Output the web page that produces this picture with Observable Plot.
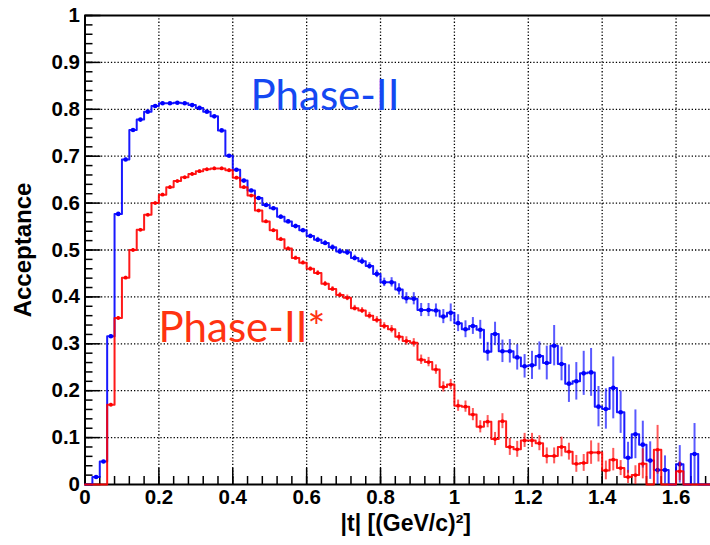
<!DOCTYPE html>
<html><head><meta charset="utf-8">
<script src="https://cdn.jsdelivr.net/npm/d3@7"></script>
<script src="https://cdn.jsdelivr.net/npm/@observablehq/plot@0.6"></script>
<style>html,body{margin:0;padding:0;background:#fff;overflow:hidden;} #chart{width:710px;height:545px;overflow:hidden;}</style>
</head><body><div id="chart"></div>
<script>
const binWidth = 0.02;
const tMax = 1.7;
// Phase-II (blue) acceptance per |t| bin of 0.02, from 0 to 1.7
const phase2 = [
0, 0.016, 0.049, 0.316, 0.577, 0.693, 0.756, 0.778, 0.795, 0.807,
0.813, 0.813, 0.814, 0.813, 0.809, 0.803, 0.795, 0.785, 0.755, 0.701,
0.671, 0.648, 0.627, 0.611, 0.596, 0.589, 0.571, 0.561, 0.551, 0.542,
0.530, 0.522, 0.515, 0.506, 0.497, 0.495, 0.483, 0.476, 0.466, 0.449,
0.431, 0.431, 0.416, 0.397, 0.396, 0.372, 0.372, 0.371, 0.358, 0.366,
0.344, 0.331, 0.338, 0.330, 0.283, 0.321, 0.284, 0.284, 0.271, 0.252,
0.254, 0.274, 0.259, 0.296, 0.257, 0.215, 0.220, 0.237, 0.239, 0.166,
0.161, 0.206, 0.154, 0.057, 0.107, 0.085, 0.051, 0.031, 0.031, 0,
0.043, 0, 0.065, 0, 0];
const phase2Err = [
0, 0.002, 0.002, 0.003, 0.003, 0.003, 0.002, 0.002, 0.002, 0.002,
0.002, 0.002, 0.002, 0.002, 0.002, 0.002, 0.002, 0.002, 0.002, 0.002,
0.003, 0.003, 0.003, 0.003, 0.003, 0.003, 0.004, 0.004, 0.004, 0.004,
0.004, 0.005, 0.005, 0.005, 0.006, 0.006, 0.006, 0.007, 0.007, 0.008,
0.009, 0.010, 0.012, 0.012, 0.013, 0.014, 0.014, 0.014, 0.015, 0.019,
0.018, 0.018, 0.018, 0.020, 0.020, 0.025, 0.024, 0.025, 0.027, 0.025,
0.030, 0.030, 0.036, 0.043, 0.036, 0.040, 0.040, 0.047, 0.051, 0.043,
0.043, 0.066, 0.045, 0.033, 0.052, 0.050, 0.040, 0.038, 0.030, 0,
0.040, 0, 0.065, 0, 0];
// Phase-II* (red)
const phase2s = [
0, 0, 0, 0.170, 0.355, 0.441, 0.500, 0.543, 0.575, 0.600,
0.618, 0.634, 0.647, 0.655, 0.662, 0.668, 0.672, 0.674, 0.674, 0.670,
0.654, 0.634, 0.616, 0.584, 0.561, 0.542, 0.523, 0.503, 0.483, 0.473,
0.460, 0.451, 0.428, 0.417, 0.404, 0.398, 0.376, 0.371, 0.360, 0.351,
0.338, 0.331, 0.315, 0.306, 0.302, 0.266, 0.261, 0.245, 0.208, 0.213,
0.168, 0.166, 0.149, 0.123, 0.134, 0.097, 0.135, 0.080, 0.075, 0.094,
0.094, 0.088, 0.061, 0.061, 0.080, 0.070, 0.044, 0.046, 0.068, 0.068,
0.030, 0.053, 0.035, 0.016, 0.020, 0.044, 0, 0.074, 0, 0,
0.028, 0, 0, 0, 0];
const phase2sErr = [
0, 0, 0, 0.003, 0.003, 0.003, 0.003, 0.003, 0.003, 0.003,
0.003, 0.003, 0.003, 0.003, 0.003, 0.003, 0.003, 0.003, 0.003, 0.003,
0.003, 0.003, 0.003, 0.003, 0.003, 0.004, 0.004, 0.004, 0.004, 0.004,
0.004, 0.005, 0.005, 0.005, 0.005, 0.006, 0.006, 0.006, 0.007, 0.007,
0.007, 0.008, 0.009, 0.009, 0.009, 0.010, 0.010, 0.010, 0.011, 0.011,
0.012, 0.012, 0.013, 0.013, 0.013, 0.014, 0.016, 0.018, 0.017, 0.015,
0.015, 0.016, 0.017, 0.017, 0.021, 0.018, 0.018, 0.018, 0.025, 0.020,
0.020, 0.024, 0.016, 0.014, 0.020, 0.032, 0, 0.052, 0, 0,
0.020, 0, 0, 0, 0];

const xTicks = [0, 0.2, 0.4, 0.6, 0.8, 1, 1.2, 1.4, 1.6];
const yTicks = [0, 0.1, 0.2, 0.3, 0.4, 0.5, 0.6, 0.7, 0.8, 0.9, 1];
const xMinor = d3.range(0, 43).map(i => +(i * 0.04).toFixed(2));
const yMinor = d3.range(0, 51).map(i => +(i * 0.02).toFixed(2));
const xTitle = "|t| [(GeV/c)²]";
const yTitle = "Acceptance";
const labelBlue = "Phase-II";
const labelRed = "Phase-II*";

function bins(vals, errs) {
  return vals.map((v, i) => ({lo: +(i * binWidth).toFixed(2), mid: (i + 0.5) * binWidth, v, e: errs[i]}));
}
function steps(vals) {
  return vals.map((v, i) => ({x: +(i * binWidth).toFixed(2), y: v})).concat([{x: tMax, y: vals[vals.length - 1]}]);
}
const bBins = bins(phase2, phase2Err), rBins = bins(phase2s, phase2sErr);
const BLUE = "#0000ff", RED = "#ff0000";
const FONT = "Liberation Sans, Arial, Helvetica, sans-serif";
const fmt = d3.format("~g");

function series(b, vals, color, r) {
  return [
    Plot.ruleX(b.filter(d => d.v > 0 && d.e > 0), {x: "mid", y1: d => Math.max(0, d.v - d.e), y2: d => d.v + d.e, stroke: color, strokeOpacity: 0.65, strokeWidth: 2}),
    Plot.line(steps(vals), {x: "x", y: "y", curve: "step-after", stroke: color, strokeWidth: 2, strokeOpacity: 0.9}),
    Plot.dot(b.filter(d => d.v > 0), {x: "mid", y: "v", r, fill: color, stroke: "none"})
  ];
}

const chart = Plot.plot({
  width: 710, height: 545,
  marginLeft: 84.5, marginRight: 0, marginTop: 15, marginBottom: 61,
  x: {domain: [0, tMax], range: [84.5, 712.5], label: null},
  y: {domain: [0, 1], range: [484, 15], label: null},
  marks: [
    Plot.gridX(xTicks.filter(d => d > 0), {stroke: "black", strokeOpacity: 1, strokeWidth: 1.3, strokeDasharray: "1.3,2"}),
    Plot.gridY(yTicks.filter(d => d > 0 && d < 1), {stroke: "black", strokeOpacity: 1, strokeWidth: 1.3, strokeDasharray: "1.3,2"}),
    Plot.ruleX([0], {stroke: "black", strokeWidth: 2}),
    Plot.ruleY([0, 1], {stroke: "black", strokeWidth: 2}),
    Plot.axisX(xTicks, {anchor: "bottom", tickSize: -16, fill: "none", strokeWidth: 1.5, label: null}),
    Plot.axisX(xMinor, {anchor: "bottom", tickSize: -8, fill: "none", strokeWidth: 1.5, label: null}),
    Plot.axisY(yTicks, {anchor: "left", tickSize: -16, fill: "none", strokeWidth: 1.5, label: null}),
    Plot.axisY(yMinor, {anchor: "left", tickSize: -8, fill: "none", strokeWidth: 1.5, label: null}),
    Plot.axisX(xTicks, {anchor: "bottom", tickSize: 0, tickPadding: 5, tickFormat: fmt, fontSize: 20.5, fontWeight: "bold", fontFamily: FONT, fill: "black", label: null}),
    Plot.axisY(yTicks, {anchor: "left", tickSize: 0, tickPadding: 5, tickFormat: fmt, fontSize: 20.5, fontWeight: "bold", fontFamily: FONT, fill: "black", label: null}),
    ...series(bBins, phase2, BLUE, 2.3),
    ...series(rBins, phase2s, RED, 1.9),
    Plot.text([yTitle], {frameAnchor: "left", dx: -62, rotate: -90, textAnchor: "middle", lineAnchor: "middle", fontSize: 24, fontWeight: "bold", fontFamily: FONT, fill: "black"}),
    Plot.text([xTitle], {frameAnchor: "bottom", dx: 8, dy: 39, textAnchor: "middle", lineAnchor: "middle", fontSize: 23, fontWeight: "bold", fontFamily: FONT, fill: "black"}),
    Plot.text([labelBlue], {x: 0.448, y: 0.827, textAnchor: "start", lineAnchor: "middle", fontSize: 42, fontFamily: "Lato, sans-serif", fill: "#1448f2"}),
    Plot.text([labelRed], {x: 0.199, y: 0.333, textAnchor: "start", lineAnchor: "middle", fontSize: 42, fontFamily: "Lato, sans-serif", fill: "#ff3311"})
  ]
});
document.getElementById("chart").appendChild(chart);
</script>
</body></html>
